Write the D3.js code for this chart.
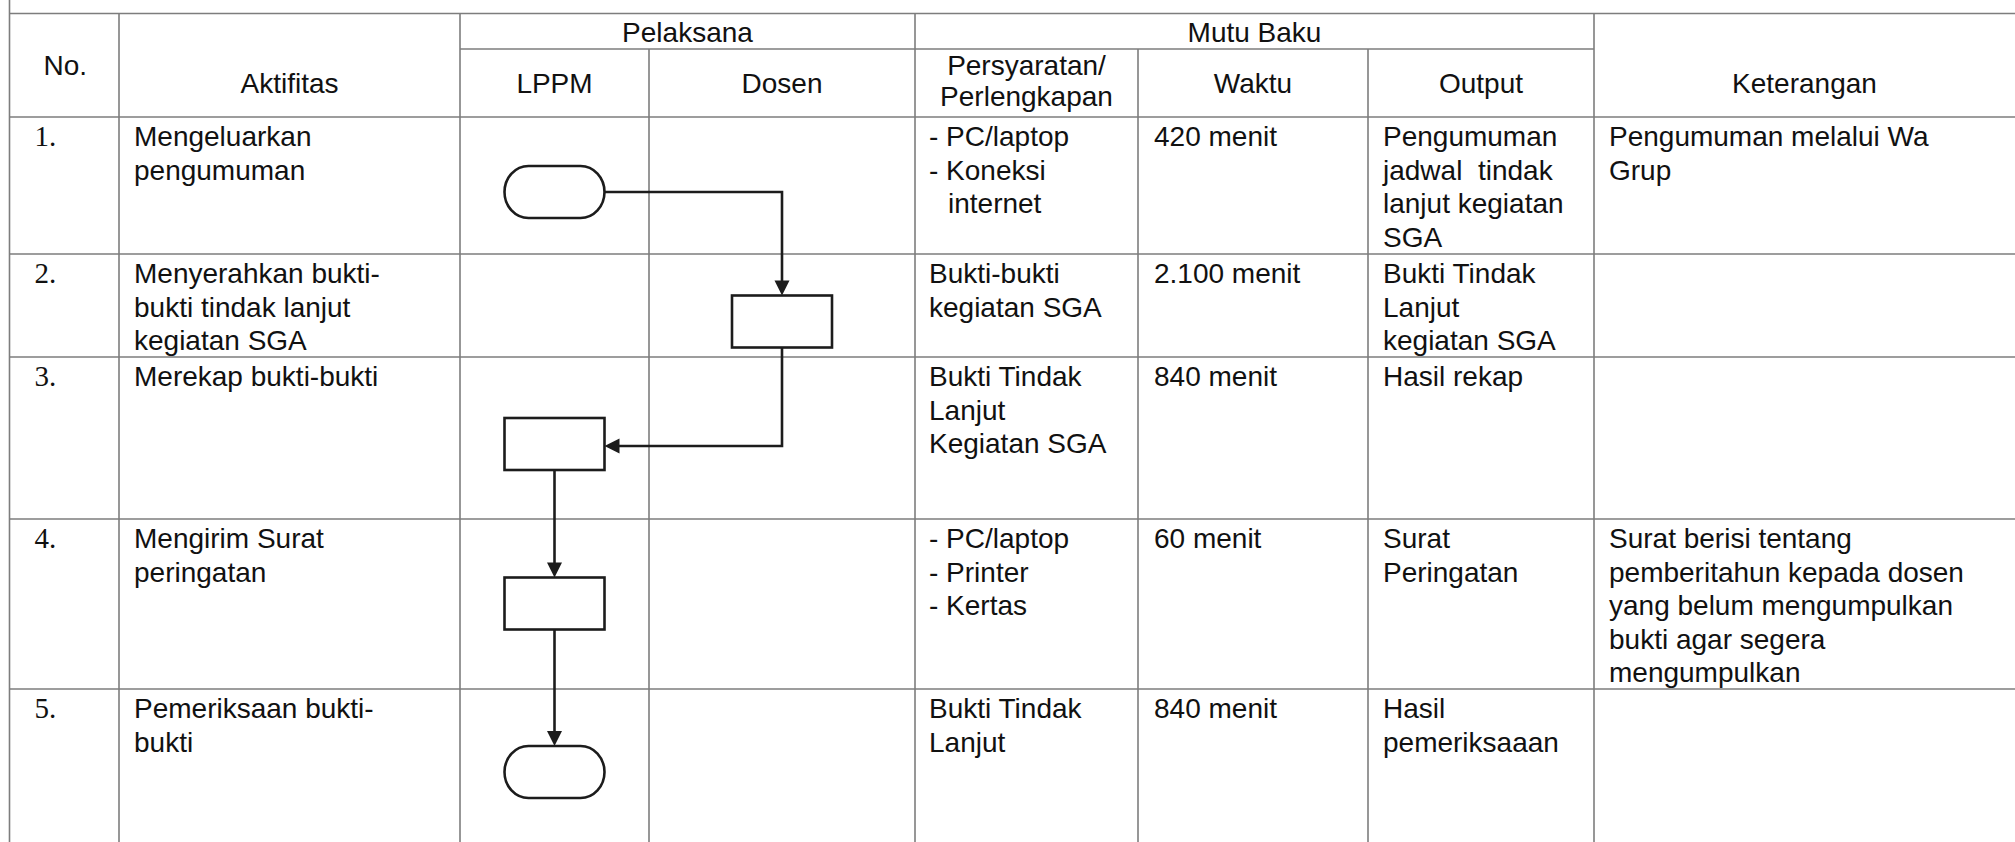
<!DOCTYPE html>
<html>
<head>
<meta charset="utf-8">
<script src="https://cdn.jsdelivr.net/npm/d3@7"></script>
<style>
  html, body { margin: 0; padding: 0; background: #fff; }
  svg { display: block; }
  text { white-space: pre; }
</style>
</head>
<body>
<svg id="chart" width="2015" height="842"></svg>
<script>
// ---------------- DATA ----------------
const headers = ["No.", "Aktifitas", "LPPM", "Dosen", "Persyaratan/\nPerlengkapan", "Waktu", "Output", "Keterangan"];
const groupHeaders = ["Pelaksana", "Mutu Baku"];
const groupSpans = [[2, 3], [4, 6]];
const nomor = ["1.", "2.", "3.", "4.", "5."];
const aktifitas = [
  ["Mengeluarkan", "pengumuman"],
  ["Menyerahkan bukti-", "bukti tindak lanjut", "kegiatan SGA"],
  ["Merekap bukti-bukti"],
  ["Mengirim Surat", "peringatan"],
  ["Pemeriksaan bukti-", "bukti"]
];
const persyaratan = [
  ["- PC/laptop", "- Koneksi", "  internet"],
  ["Bukti-bukti", "kegiatan SGA"],
  ["Bukti Tindak", "Lanjut", "Kegiatan SGA"],
  ["- PC/laptop", "- Printer", "- Kertas"],
  ["Bukti Tindak", "Lanjut"]
];
const waktu = ["420 menit", "2.100 menit", "840 menit", "60 menit", "840 menit"];
const output = [
  ["Pengumuman", "jadwal  tindak", "lanjut kegiatan", "SGA"],
  ["Bukti Tindak", "Lanjut", "kegiatan SGA"],
  ["Hasil rekap"],
  ["Surat", "Peringatan"],
  ["Hasil", "pemeriksaaan"]
];
const keterangan = [
  ["Pengumuman melalui Wa", "Grup"],
  [],
  [],
  ["Surat berisi tentang", "pemberitahun kepada dosen", "yang belum mengumpulkan", "bukti agar segera", "mengumpulkan"],
  []
];
const pelaksana = ["LPPM", "Dosen", "LPPM", "LPPM", "LPPM"];
const simbol = ["terminator", "process", "process", "process", "terminator"];

// ---------------- LAYOUT ----------------
const W = 2015, H = 842;
const colEdges = [9.5, 119, 460, 649, 915, 1138, 1368, 1594, 2015];
const headTop = 13.5, subLine = 49;
const rowEdges = [117, 254, 357, 519, 689, 860];
const nodeOffset = [75, 67.5, 87, 84.5, 83]; // node centre below row top
const nodeW = 100, nodeH = 52;
const fontSans = "'Liberation Sans', Arial, sans-serif";
const fontSerif = "'Liberation Serif', 'Times New Roman', serif";
const fs = 28, lh = 33.5, firstBase = 29, padL = 15;
const gridColor = "#7d7d7d", inkColor = "#1c1c1c";

const svg = d3.select("#chart");

const colX = d3.scaleOrdinal().domain(d3.range(colEdges.length)).range(colEdges);
const rowY = d3.scaleOrdinal().domain(d3.range(rowEdges.length)).range(rowEdges);
const laneX = d3.scaleOrdinal().domain(["LPPM", "Dosen"])
  .range([(colEdges[2] + colEdges[3]) / 2, (colEdges[3] + colEdges[4]) / 2]);

// ---------------- GRID ----------------
const grid = svg.append("g").attr("stroke", gridColor).attr("stroke-width", 1.6).attr("fill", "none");
grid.append("line").attr("x1", colX(0)).attr("x2", W).attr("y1", headTop).attr("y2", headTop);
grid.append("line").attr("x1", colX(0)).attr("x2", colX(0)).attr("y1", 0).attr("y2", H);
grid.append("line").attr("x1", colX(2)).attr("x2", colX(7)).attr("y1", subLine).attr("y2", subLine);
rowEdges.slice(0, 5).forEach(y => {
  grid.append("line").attr("x1", colX(0)).attr("x2", W).attr("y1", y).attr("y2", y);
});
[1, 2, 3, 4, 5, 6, 7].forEach(c => {
  const inner = (c === 3 || c === 5 || c === 6);
  grid.append("line").attr("x1", colX(c)).attr("x2", colX(c))
    .attr("y1", inner ? subLine : headTop).attr("y2", H);
});

// ---------------- HEADER TEXT ----------------
const txt = svg.append("g").attr("fill", "#111").attr("font-family", fontSans).attr("font-size", fs);
groupHeaders.forEach((g, i) => {
  const [a, b] = groupSpans[i];
  txt.append("text").attr("x", (colX(a) + colX(b + 1)) / 2).attr("y", 42)
    .attr("text-anchor", "middle").text(g);
});
headers.forEach((h, c) => {
  const centerX = (colX(c) + colX(c + 1)) / 2;
  if (h.includes("\n")) {
    const parts = h.split("\n");
    txt.append("text").attr("x", centerX).attr("y", 75).attr("text-anchor", "middle").text(parts[0]);
    txt.append("text").attr("x", centerX).attr("y", 106).attr("text-anchor", "middle").text(parts[1]);
  } else {
    txt.append("text").attr("x", c === 0 ? centerX + 1 : centerX).attr("y", c === 0 ? 75 : 93)
      .attr("text-anchor", "middle").text(h);
  }
});

// ---------------- BODY TEXT ----------------
function cellLines(col, row, lines, extraX) {
  const x0 = colX(col) + padL + (extraX || 0);
  lines.forEach((line, k) => {
    const m = line.match(/^(\s+)(.*)$/);
    txt.append("text")
      .attr("x", x0 + (m ? 19 : 0))
      .attr("y", rowY(row) + firstBase + k * lh)
      .text(m ? m[2] : line);
  });
}
nomor.forEach((n, r) => {
  txt.append("text").attr("x", colX(0) + 25).attr("y", rowY(r) + firstBase)
    .attr("font-family", fontSerif).attr("font-size", 29).text(n);
});
aktifitas.forEach((l, r) => cellLines(1, r, l, 0));
persyaratan.forEach((l, r) => cellLines(4, r, l, -1));
waktu.forEach((w, r) => cellLines(5, r, [w], 1));
output.forEach((l, r) => cellLines(6, r, l, 0));
keterangan.forEach((l, r) => cellLines(7, r, l, 0));

// ---------------- FLOW ----------------
const nodes = simbol.map((s, r) => ({
  type: s,
  cx: laneX(pelaksana[r]),
  cy: rowY(r) + nodeOffset[r]
}));
const flow = svg.append("g").attr("stroke", inkColor).attr("stroke-width", 2.6).attr("fill", "none");
nodes.forEach(n => {
  flow.append("rect")
    .attr("x", n.cx - nodeW / 2).attr("y", n.cy - nodeH / 2)
    .attr("width", nodeW).attr("height", nodeH)
    .attr("rx", n.type === "terminator" ? 24 : 0)
    .attr("ry", n.type === "terminator" ? 26 : 0)
    .attr("fill", "#fff");
});

const lineGen = d3.line();
const ah = 15, aw = 7.5;
function shorten(points) {
  const [px, py] = points[points.length - 2];
  const [tx, ty] = points[points.length - 1];
  const dx = Math.sign(tx - px), dy = Math.sign(ty - py);
  return [tx - dx * (ah - 2), ty - dy * (ah - 2)];
}
function arrow(points) {
  flow.append("path").attr("d", lineGen(points.slice(0, -1).concat([shorten(points)])));
  const [px, py] = points[points.length - 2];
  const [tx, ty] = points[points.length - 1];
  const dx = Math.sign(tx - px), dy = Math.sign(ty - py);
  const bx = tx - dx * ah, by = ty - dy * ah;
  const tri = [[tx, ty], [bx + dy * aw, by + dx * aw], [bx - dy * aw, by - dx * aw]];
  svg.append("path").attr("d", lineGen(tri) + "Z").attr("fill", inkColor).attr("stroke", "none");
}
for (let i = 0; i < nodes.length - 1; i++) {
  const a = nodes[i], b = nodes[i + 1];
  if (Math.abs(a.cx - b.cx) < 1) {
    arrow([[a.cx, a.cy + nodeH / 2], [b.cx, b.cy - nodeH / 2]]);
  } else if (b.cx > a.cx) {
    arrow([[a.cx + nodeW / 2, a.cy], [b.cx, a.cy], [b.cx, b.cy - nodeH / 2]]);
  } else {
    arrow([[a.cx, a.cy + nodeH / 2], [a.cx, b.cy + 2], [b.cx + nodeW / 2, b.cy + 2]]);
  }
}
</script>
</body>
</html>
